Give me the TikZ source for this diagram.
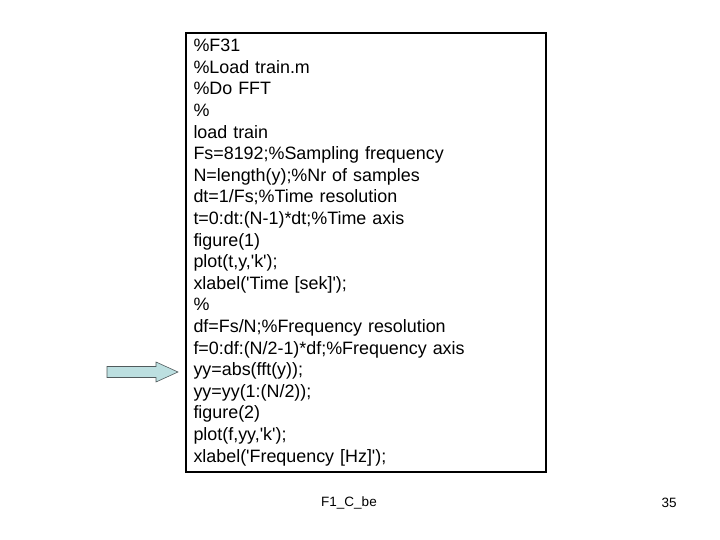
\documentclass[tikz,border=0pt]{standalone}
\usepackage{fontspec}
\setmainfont{Liberation Sans}[Ligatures=TeXOff]
\usetikzlibrary{calc}
\definecolor{arrowfill}{HTML}{BCDFE0}
\definecolor{arrowline}{HTML}{505A5C}
\tikzset{
  codebox/.style={draw=black, line width=1.4pt, minimum width=360pt, minimum height=439pt,
    text width=345pt, inner xsep=7pt, align=left, font=\fontsize{17.9}{21.6}\selectfont},
  footer/.style={font=\fontsize{13.5}{15}\selectfont, inner sep=0pt},
  blockarrow/.style={fill=arrowfill, draw=arrowline, line width=0.6pt, line join=miter}
}
\begin{document}
\begin{tikzpicture}[x=1pt,y=-1pt]
\useasboundingbox (0,0) rectangle (720,540);
\node[codebox] (code) at (366,252.5) {%
\%F31\\
\%Load train.m\\
\%Do FFT\\
\%\\
load train\\
Fs=8192;\%Sampling frequency\\
N=length(y);\%Nr of samples\\
dt=1/Fs;\%Time resolution\\
t=0:dt:(N-1)*dt;\%Time axis\\
figure(1)\\
plot(t,y,'k');\\
xlabel('Time [sek]');\\
\%\\
df=Fs/N;\%Frequency resolution\\
f=0:df:(N/2-1)*df;\%Frequency axis\\
yy=abs(fft(y));\\
yy=yy(1:(N/2));\\
figure(2)\\
plot(f,yy,'k');\\
xlabel('Frequency [Hz]');};
\coordinate (tail) at (107,372);
\coordinate (tip) at (178,372);
\draw[blockarrow] ($(tail)+(0,-5.5)$) -- ($(tip)+(-22,-5.5)$) -- ($(tip)+(-22,-10)$) -- (tip)
  -- ($(tip)+(-22,10)$) -- ($(tip)+(-22,5.5)$) -- ($(tail)+(0,5.5)$) -- cycle;
\node[footer] (src) at (349,503) {F1\_C\_be};
\node[footer] (page) at (669,503) {35};
\end{tikzpicture}
\end{document}
